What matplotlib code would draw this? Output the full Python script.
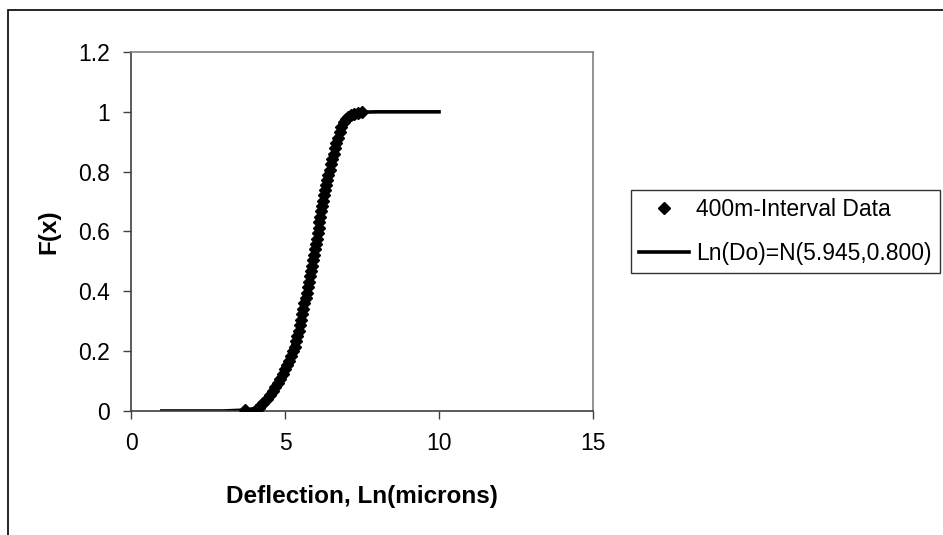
import matplotlib
matplotlib.use("Agg")
import matplotlib.pyplot as plt
from matplotlib.patches import Rectangle

plt.rcParams['font.family'] = ['Liberation Sans', 'DejaVu Sans']

data_x = [3.70, 4.06, 4.15, 4.22, 4.30, 4.40, 4.50, 4.60, 4.68, 4.76,
          4.84, 4.92, 5.00, 5.06, 5.12, 5.18, 5.25, 5.31, 5.36, 5.40,
          5.44, 5.48, 5.52, 5.55, 5.59, 5.63, 5.67, 5.71, 5.75, 5.78,
          5.82, 5.85, 5.88, 5.91, 5.94, 5.97, 6.00, 6.03, 6.06, 6.09,
          6.11, 6.14, 6.17, 6.20, 6.23, 6.26, 6.29, 6.33, 6.37, 6.41,
          6.45, 6.49, 6.54, 6.59, 6.63, 6.67, 6.72, 6.77, 6.83, 6.90,
          6.97, 7.05, 7.14, 7.25, 7.36, 7.49]
data_F = [0.004, 0.004, 0.011, 0.019, 0.028, 0.040, 0.053, 0.066, 0.080, 0.094,
          0.108, 0.125, 0.142, 0.155, 0.168, 0.183, 0.199, 0.215, 0.233, 0.250,
          0.268, 0.286, 0.305, 0.323, 0.341, 0.360, 0.378, 0.396, 0.414, 0.432,
          0.450, 0.468, 0.486, 0.504, 0.522, 0.540, 0.558, 0.576, 0.594, 0.613,
          0.631, 0.649, 0.667, 0.685, 0.703, 0.721, 0.739, 0.755, 0.772, 0.790,
          0.807, 0.824, 0.842, 0.860, 0.878, 0.896, 0.914, 0.932, 0.950, 0.965,
          0.976, 0.984, 0.990, 0.994, 0.997, 0.999]

# fitted model line
line_x = [1.0, 2.0, 3.0, 3.7, 4.1, 4.5, 5.0, 5.5, 6.0, 6.5, 7.0, 7.5, 8.0, 9.0, 10.0]
line_F = [0.0, 0.0, 0.0, 0.003, 0.010, 0.050, 0.140, 0.300, 0.560, 0.810, 0.980, 0.999, 1.0, 1.0, 1.0]

x_ticks = [0, 5, 10, 15]
y_ticks = [0, 0.2, 0.4, 0.6, 0.8, 1.0, 1.2]
y_labels = ['0', '0.2', '0.4', '0.6', '0.8', '1', '1.2']

fig = plt.figure(figsize=(9.43, 5.35), dpi=100)
ax = fig.add_axes([131 / 943, 124 / 535, 462 / 943, 359 / 535])

ax.plot(line_x, line_F, color='black', linewidth=2.6, label='Ln(Do)=N(5.945,0.800)', zorder=2)
ax.plot(data_x, data_F, linestyle='none', marker='D', markersize=6.6, color='black',
        label='400m-Interval Data', zorder=3)

ax.set_xlim(0, 15)
ax.set_ylim(0, 1.2)
ax.set_xticks(x_ticks)
ax.set_yticks(y_ticks)
ax.set_yticklabels(y_labels)
ax.tick_params(direction='out', length=6, width=1, labelsize=16.5, pad=9, color='#404040')

for side in ['top', 'right']:
    ax.spines[side].set_color('#808080')
for side in ['left', 'bottom']:
    ax.spines[side].set_color('#404040')
for s in ax.spines.values():
    s.set_linewidth(1.2)

ax.set_xlabel('Deflection, Ln(microns)', fontsize=17.5, fontweight='bold', labelpad=22)
ax.set_ylabel('F(x)', fontsize=17.5, fontweight='bold', labelpad=13)

handles, labels = ax.get_legend_handles_labels()
leg = fig.legend(handles[::-1], labels[::-1], loc='upper left',
                 bbox_to_anchor=(631 / 943, (535 - 190) / 535),
                 fontsize=16.5, frameon=True, fancybox=False, shadow=False,
                 borderpad=0.35, handlelength=2.2, handletextpad=0.3, labelspacing=0.9,
                 borderaxespad=0)
leg.get_frame().set_edgecolor('black')
leg.get_frame().set_linewidth(1.0)

# outer chart border
fig.patches.append(Rectangle((8 / 943, -0.1), 1.2, (535 - 10) / 535 + 0.1,
                             transform=fig.transFigure, fill=False,
                             edgecolor='black', linewidth=1.2))

fig.savefig('out.png', dpi=100)
